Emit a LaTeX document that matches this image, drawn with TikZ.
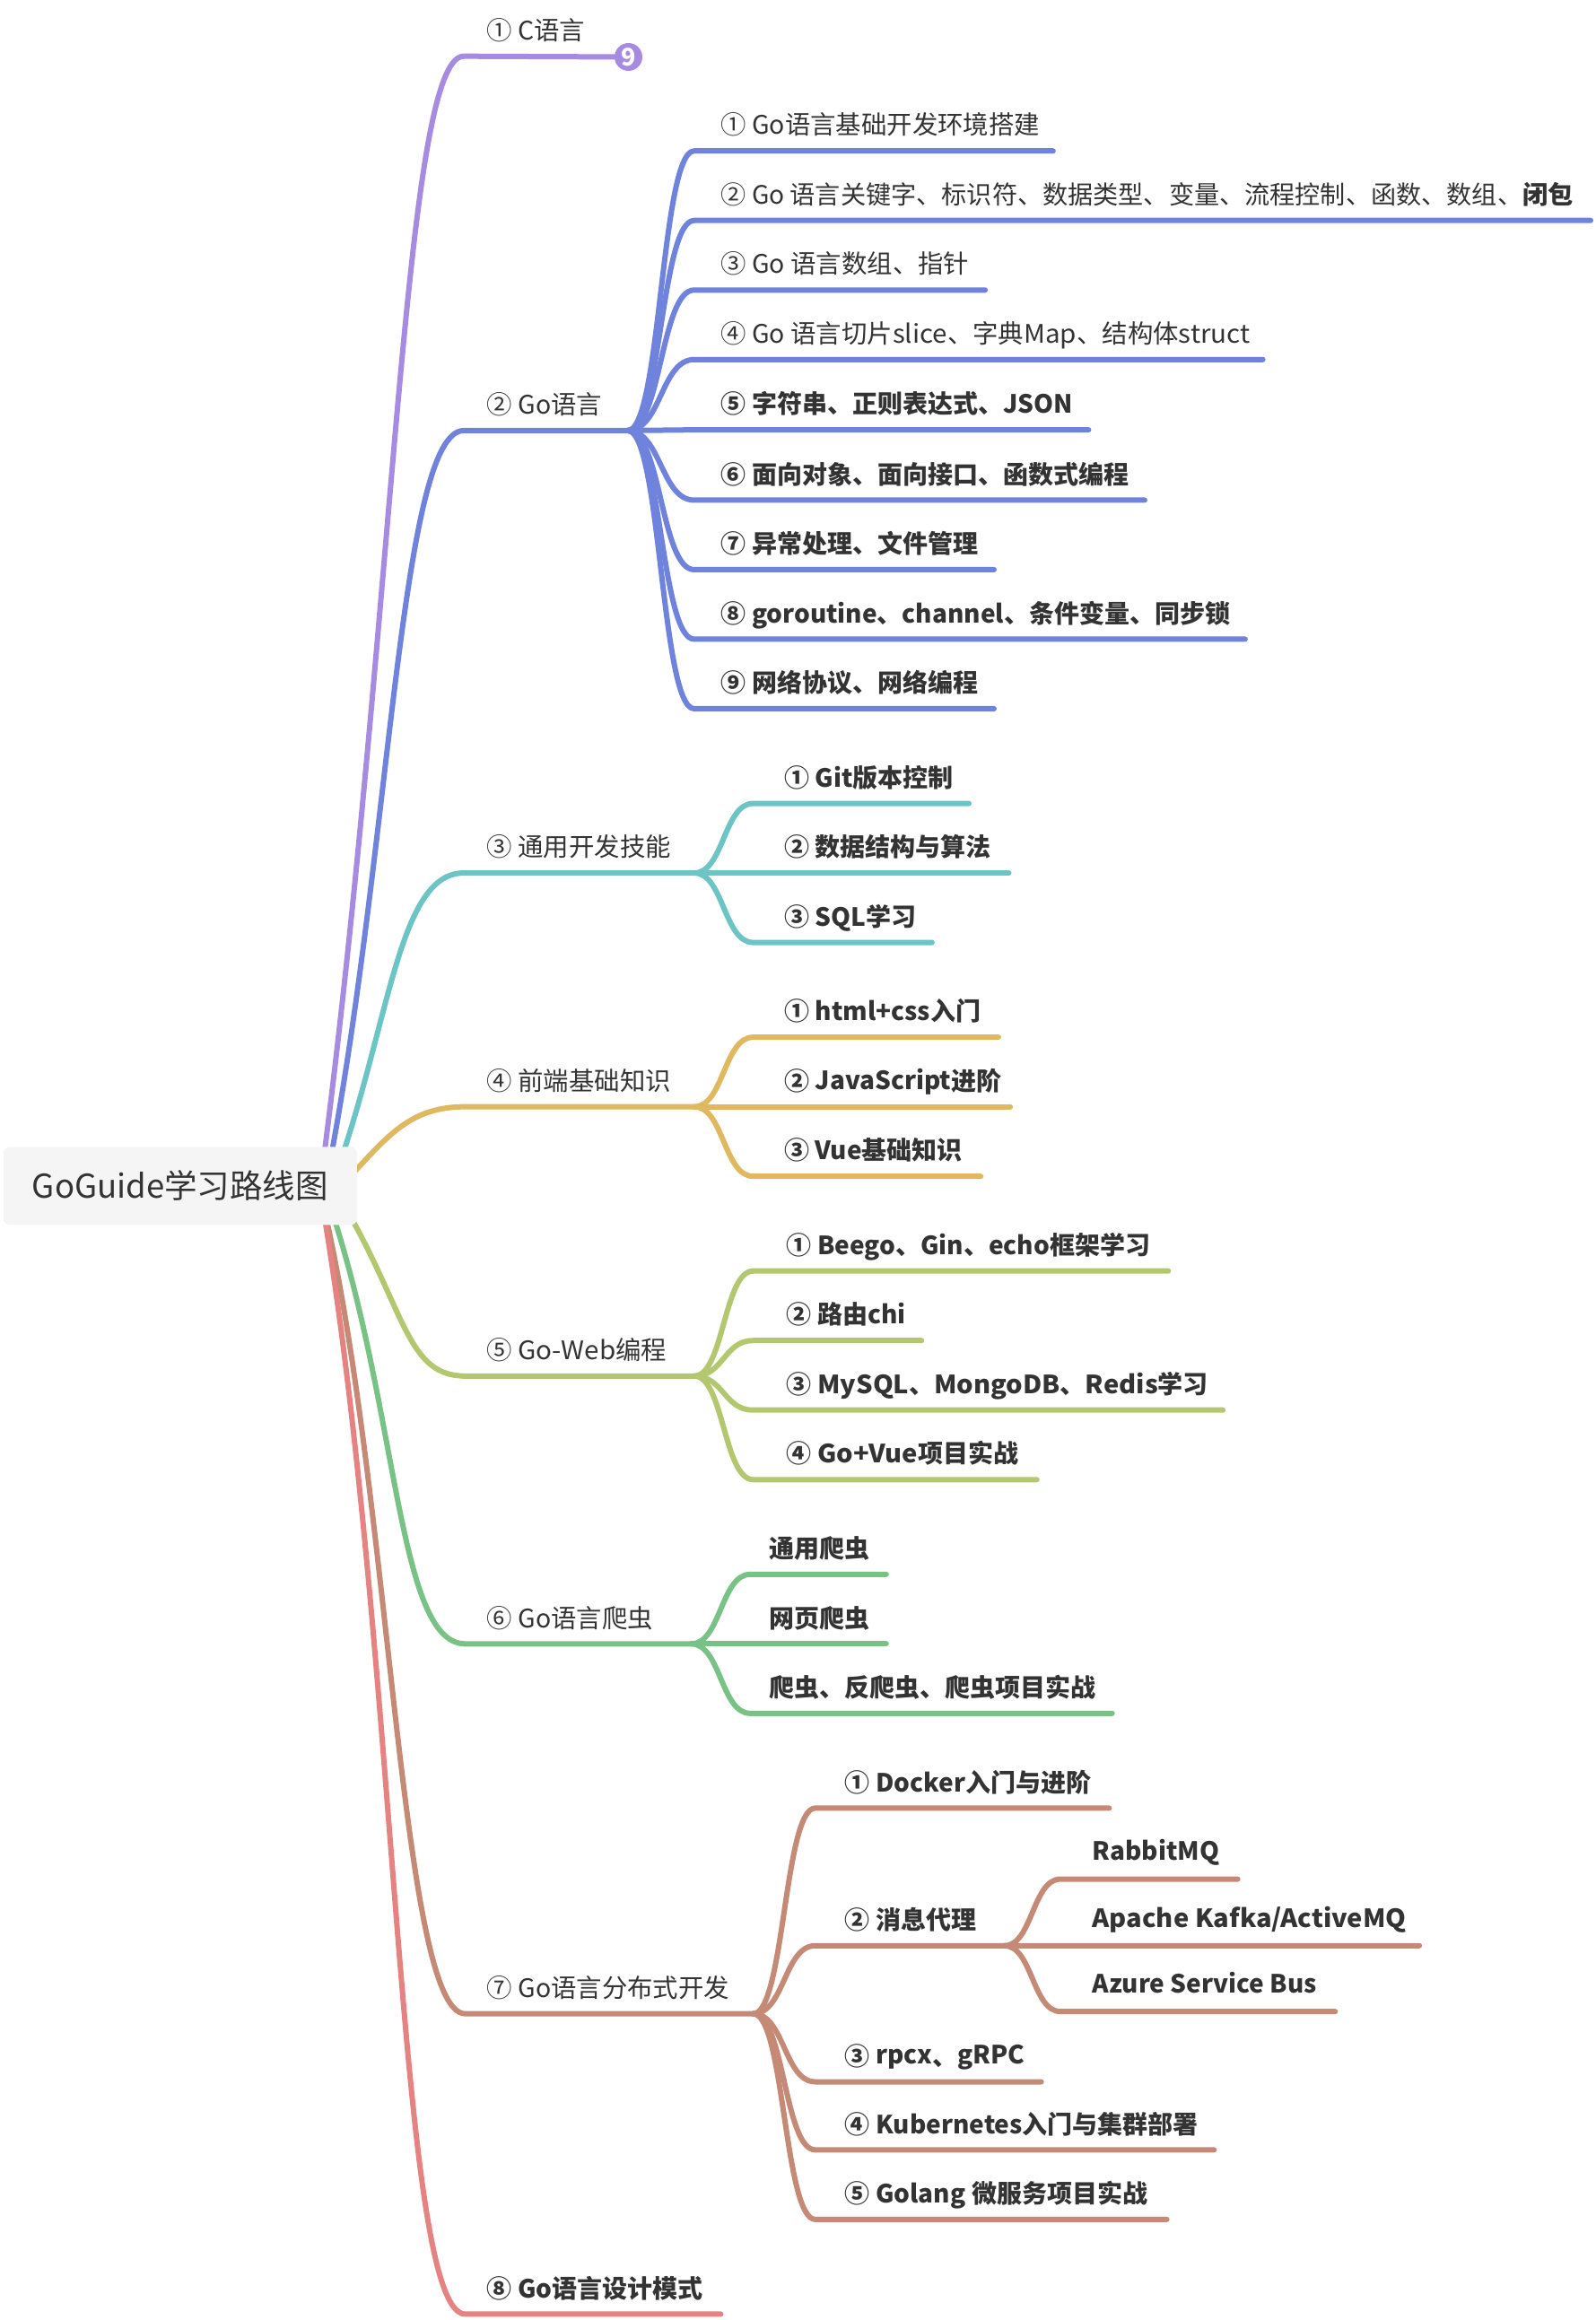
\documentclass[tikz,border=0pt]{standalone}
\usepackage{fontspec}
\setmainfont{Noto Sans CJK SC}
\newfontfamily\wideF[FakeStretch=1.04]{Noto Sans CJK SC}
\usetikzlibrary{calc,backgrounds}
\definecolor{cP}{HTML}{A78BE0}
\definecolor{cB}{HTML}{6F83DD}
\definecolor{cT}{HTML}{6CC4C4}
\definecolor{cY}{HTML}{E0B85F}
\definecolor{cO}{HTML}{B3C76F}
\definecolor{cG}{HTML}{79C285}
\definecolor{cR}{HTML}{C48A75}
\definecolor{cK}{HTML}{E58383}
\definecolor{txt}{HTML}{333333}
\newcommand{\bz}{\bfseries\fontsize{28}{34}\selectfont}
\tikzset{
  lbl/.style={anchor=west,inner sep=0pt,text=txt,text height=24.6pt,text depth=3.4pt,font=\fontsize{28.4}{34}\selectfont},
  branch/.style={line width=6pt,line cap=round,line join=round},
  rootbox/.style={fill=black!4,rounded corners=7pt,minimum width=394pt,minimum height=87pt,inner sep=0pt,text=txt,font=\fontsize{36.5}{44}\selectfont},
  badge/.style={circle,minimum size=31pt,inner sep=0pt,text=white,font=\bfseries\fontsize{27}{27}\selectfont},
}
% #1 name, #2 junction, #3 colour, #4 corner x, #5 line y, #6 end x, #7 text x, #8 text
\newcommand{\leaf}[8]{%
  \coordinate (#1c) at (#4,#5);
  \coordinate (#1e) at (#6,#5);
  \node[lbl] (#1) at (#7,#5-17.5) {#8};
  \draw[branch,#3] (#2) .. controls ($(#2)!0.5!(#1c|-#2)$) and ($(#1c)!0.5!(#2|-#1c)$) .. (#1c) -- (#1e);
}
\begin{document}
\begin{tikzpicture}[x=1.6463pt,y=-1.6492pt]
\useasboundingbox (0,0) rectangle (1080,1568);
\node[rootbox] (root) at (122,801.5) {GoGuide学习路线图};
\begin{pgfonlayer}{background}
% level 1 -----------------------------------------------------------
\coordinate (s1) at ($(root.north east)+(-22,3)$);
\coordinate (s2) at ($(root.north east)+(-17,3)$);
\coordinate (s3) at ($(root.north east)+(-9,3)$);
\coordinate (s4) at ($(root.north east)+(-1,16)$);
\coordinate (s5) at ($(root.south east)+(-4,-5)$);
\coordinate (s6) at ($(root.south east)+(-15.7,-5)$);
\coordinate (s7) at ($(root.south east)+(-21,-5)$);
\coordinate (s8) at ($(root.south east)+(-22,-5)$);
% C
\node[lbl] (n1) at (329.5,20.5) {① C语言};
\coordinate (n1c) at (314,38);
\node[badge,fill=cP] (n1b) at (425.5,38.5) {9};
\draw[branch,cP] (s1) .. controls (268,400) and (274,38) .. (n1c) -- (n1b);
% Go
\node[lbl] (n2) at (329.5,273.5) {② Go语言};
\coordinate (n2c) at (314,291);
\coordinate (n2j) at (425,291);
\draw[branch,cB] (s2) .. controls (265,560) and (272,291) .. (n2c) -- (n2j);
\leaf{a1}{n2j}{cB}{470}{102}{713}{488}{① Go语言基础开发环境搭建}
\leaf{a2}{n2j}{cB}{470}{149}{1077}{488}{\fontsize{28.15}{34}\selectfont ② Go 语言关键字、标识符、数据类型、变量、流程控制、函数、数组、\textbf{闭包}}
\leaf{a3}{n2j}{cB}{470}{196}{667}{488}{③ Go 语言数组、指针}
\leaf{a4}{n2j}{cB}{470}{243}{855}{488}{④ Go 语言切片{\wideF slice}、字典{\wideF Map}、结构体{\wideF struct}}
\leaf{a5}{n2j}{cB}{470}{290.5}{737}{488}{\bz ⑤ 字符串、正则表达式、JSON}
\leaf{a6}{n2j}{cB}{470}{338}{775}{488}{\bz ⑥ 面向对象、面向接口、函数式编程}
\leaf{a7}{n2j}{cB}{470}{385}{673}{488}{\bz ⑦ 异常处理、文件管理}
\leaf{a8}{n2j}{cB}{470}{432}{843}{488}{\bz ⑧ goroutine、channel、条件变量、同步锁}
\leaf{a9}{n2j}{cB}{470}{479}{673}{488}{\bz ⑨ 网络协议、网络编程}
% general
\node[lbl] (n3) at (329.5,572.5) {③ 通用开发技能};
\coordinate (n3c) at (314,590);
\coordinate (n3j) at (470,590);
\draw[branch,cT] (s3) .. controls (265,680) and (272,590) .. (n3c) -- (n3j);
\leaf{b1}{n3j}{cT}{510}{543}{656}{531}{\bz ① Git版本控制}
\leaf{b2}{n3j}{cT}{510}{590}{683}{531}{\bz ② 数据结构与算法}
\leaf{b3}{n3j}{cT}{510}{637}{631}{531}{\bz ③ SQL学习}
% frontend
\node[lbl] (n4) at (329.5,730.5) {④ 前端基础知识};
\coordinate (n4c) at (315,748);
\coordinate (n4j) at (470,748);
\draw[branch,cY] (s4) .. controls (265,765) and (280,748) .. (n4c) -- (n4j);
\leaf{c1}{n4j}{cY}{510}{701}{676}{531}{\bz ① html+css入门}
\leaf{c2}{n4j}{cY}{510}{748}{684}{531}{\bz ② \raisebox{1pt}{JavaScript}进阶}
\leaf{c3}{n4j}{cY}{510}{795}{664}{531}{\bz ③ Vue基础知识}
% web
\node[lbl] (n5) at (329.5,912.5) {⑤ {\wideF Go-Web}编程};
\coordinate (n5c) at (315,930);
\coordinate (n5j) at (470,930);
\draw[branch,cO] (s5) .. controls (275,890) and (277,930) .. (n5c) -- (n5j);
\leaf{d1}{n5j}{cO}{510}{859}{791}{532.5}{\bz ① Beego、Gin、echo框架学习}
\leaf{d2}{n5j}{cO}{510}{906}{624}{532.5}{\bz ② 路由chi}
\leaf{d3}{n5j}{cO}{510}{953}{828}{532.5}{\bz ③ {\wideF\bz MySQL}、{\wideF\bz MongoDB}、{\wideF\bz Redis}学习}
\leaf{d4}{n5j}{cO}{510}{1000}{702}{532.5}{\bz ④ {\wideF\bz Go+Vue}项目实战}
% crawler
\node[lbl] (n6) at (329.5,1093.5) {⑥ Go语言爬虫};
\coordinate (n6c) at (315,1111);
\coordinate (n6j) at (468,1111);
\draw[branch,cG] (s6) .. controls (270,960) and (270,1111) .. (n6c) -- (n6j);
\leaf{e1}{n6j}{cG}{508}{1064}{600}{520.5}{\bz 通用爬虫}
\leaf{e2}{n6j}{cG}{508}{1111}{600}{520.5}{\bz 网页爬虫}
\leaf{e3}{n6j}{cG}{508}{1158}{753}{520.5}{\bz 爬虫、反爬虫、爬虫项目实战}
% distributed
\node[lbl] (n7) at (329.5,1343.5) {⑦ Go语言分布式开发};
\coordinate (n7c) at (315,1361);
\coordinate (n7j) at (510,1361);
\draw[branch,cR] (s7) .. controls (265,1020) and (272,1361) .. (n7c) -- (n7j);
\leaf{f1}{n7j}{cR}{552}{1222}{751}{572}{\bz ① Docker入门与进阶}
\leaf{f2}{n7j}{cR}{552}{1315}{961}{572}{\bz ② 消息代理}
\coordinate (f2j) at (680,1315);
\leaf{g1}{f2j}{cR}{718}{1270}{838}{739.5}{\raisebox{2.5pt}{\bz RabbitMQ}}
\leaf{g3}{f2j}{cR}{718}{1359.5}{904}{739.5}{\raisebox{2pt}{\bz Azure Service Bus}}
\node[lbl] (g2) at (739.5,1297.5) {\raisebox{2.5pt}{\wideF\bz Apache Kafka/ActiveMQ}};
\leaf{f3}{n7j}{cR}{552}{1407}{705}{572}{\bz ③ \raisebox{2pt}{rpcx}、\raisebox{2pt}{gRPC}}
\leaf{f4}{n7j}{cR}{552}{1453}{822}{572}{\bz ④ Kubernetes入门与集群部署}
\leaf{f5}{n7j}{cR}{552}{1500}{790}{572}{\bz ⑤ Golang 微服务项目实战}
% patterns
\node[lbl] (n8) at (329.5,1546.5) {\bz ⑧ Go语言设计模式};
\coordinate (n8c) at (315,1564);
\coordinate (n8e) at (488,1564);
\draw[branch,cK] (s8) .. controls (270,1130) and (270,1564) .. (n8c) -- (n8e);
\end{pgfonlayer}
\end{tikzpicture}
\end{document}
